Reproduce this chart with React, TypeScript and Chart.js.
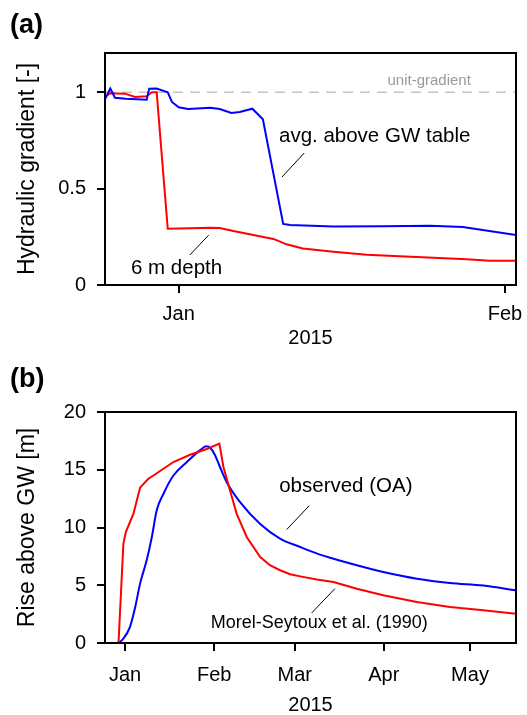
import React, { useEffect, useRef } from 'react';
import { Chart, registerables } from 'chart.js';

Chart.register(...registerables);

const FONT = "'Liberation Sans', Arial, Helvetica, sans-serif";

// ---------- Panel (a): hydraulic gradient, days relative to 1 Jan 2015 ----------
const gradAvgDays = [-7.0, -6.5, -6.05, -5.0, -3.04, -2.8, -2.1, -1.04, -0.64, 0, 0.9, 3.0, 3.9, 5.0, 5.8, 7.0, 8.0, 9.93, 10.6, 14.7, 19.4, 23.9, 27.0, 32.05];
const gradAvgValues = [0.964, 1.02, 0.972, 0.967, 0.962, 1.019, 1.02, 1.0, 0.95, 0.922, 0.913, 0.92, 0.913, 0.893, 0.898, 0.915, 0.86, 0.317, 0.311, 0.303, 0.305, 0.308, 0.301, 0.259];
const grad6mDays = [-7.0, -6.5, -5.1, -4.15, -3.04, -2.56, -2.09, -1.04, 1.07, 3.0, 3.9, 5.2, 7.1, 9.0, 10.25, 11.8, 14.7, 17.85, 21.0, 24.2, 27.35, 29.56, 32.05];
const grad6mValues = [0.977, 0.995, 0.993, 0.976, 0.979, 1.0, 1.0, 0.292, 0.294, 0.297, 0.296, 0.28, 0.26, 0.239, 0.211, 0.19, 0.173, 0.157, 0.149, 0.142, 0.133, 0.126, 0.126];
const unitGradient = 1;
const gradYTicks = [0, 0.5, 1];
const gradXTicks = [0, 31];
const gradXLabels = ['Jan', 'Feb'];

// ---------- Panel (b): rise above groundwater ----------
const riseObsDays = [-7, -2.9, -0.6, 1.7, 3.5, 5.2, 7.5, 9.3, 11, 13.3, 16.8, 21.5, 26.1, 28.2, 29.6, 31.2, 33.0, 35.4, 40.0, 47.0, 53.9, 60.9, 67.8, 72.5, 80.6, 89.8, 101.5, 113, 124.6, 136];
const riseObsValues = [0, 0, 0.38, 1.39, 3.1, 5.14, 7.16, 9.18, 11.5, 12.9, 14.5, 15.67, 16.7, 17.03, 16.9, 16.3, 15.24, 13.9, 12.2, 10.3, 9.04, 8.31, 7.65, 7.3, 6.73, 6.15, 5.57, 5.2, 4.97, 4.56];
const riseMorelDays = [-7, -2.3, -0.6, 0.24, 2.9, 5.2, 8.0, 11, 16.8, 22.6, 28.4, 32.8, 34.2, 36.5, 38.8, 42.3, 47.0, 50.4, 53.9, 57.4, 60.9, 66.7, 72.5, 80.6, 89.8, 101.5, 113, 124.6, 136];
const riseMorelValues = [0, 0, 8.6, 9.6, 11.2, 13.45, 14.2, 14.7, 15.67, 16.3, 16.8, 17.26, 15.24, 13.2, 11.2, 9.18, 7.45, 6.73, 6.3, 5.95, 5.77, 5.5, 5.28, 4.7, 4.13, 3.55, 3.12, 2.83, 2.54];
const riseYTicks = [0, 5, 10, 15, 20];
const riseXTicks = [0, 31, 59, 90, 120];
const riseXLabels = ['Jan', 'Feb', 'Mar', 'Apr', 'May'];

const pts = (xs: number[], ys: number[]) => xs.map((x, i) => ({ x, y: ys[i] }));

type Note = { text: string; x: number; y: number; size: number; color?: string; align?: CanvasTextAlign };
type Leader = { x1: number; y1: number; x2: number; y2: number };

function makeDecor(notes: Note[], leaders: Leader[], label: { text: string; px: number; py: number }) {
  return {
    id: 'decor',
    afterDatasetsDraw(chart: any) {
      const { ctx, chartArea: a, scales } = chart;
      const xs = scales.x;
      const ys = scales.y;
      ctx.save();
      ctx.strokeStyle = '#000';
      ctx.lineWidth = 2;
      ctx.strokeRect(a.left, a.top, a.right - a.left, a.bottom - a.top);
      ctx.lineWidth = 1;
      leaders.forEach((l) => {
        ctx.beginPath();
        ctx.moveTo(xs.getPixelForValue(l.x1), ys.getPixelForValue(l.y1));
        ctx.lineTo(xs.getPixelForValue(l.x2), ys.getPixelForValue(l.y2));
        ctx.stroke();
      });
      ctx.textBaseline = 'alphabetic';
      notes.forEach((n) => {
        ctx.font = `${n.size}px ${FONT}`;
        ctx.fillStyle = n.color || '#000';
        ctx.textAlign = n.align || 'left';
        ctx.fillText(n.text, xs.getPixelForValue(n.x), ys.getPixelForValue(n.y));
      });
      ctx.font = `bold 27px ${FONT}`;
      ctx.fillStyle = '#000';
      ctx.textAlign = 'left';
      ctx.fillText(label.text, label.px, label.py);
      ctx.restore();
    },
  };
}

function xAxis(min: number, max: number, ticks: number[], labels: string[], pad: number, height: number, titleLH: number) {
  return {
    type: 'linear',
    min,
    max,
    afterBuildTicks: (s: any) => { s.ticks = ticks.map((v) => ({ value: v })); },
    afterFit: (s: any) => { s.height = height; s.paddingLeft = 0; s.paddingRight = 0; },
    ticks: {
      autoSkip: false,
      maxRotation: 0,
      padding: pad,
      color: '#000',
      font: { family: FONT, size: 20 },
      callback: (v: number) => { const i = ticks.indexOf(v); return i >= 0 ? labels[i] : ''; },
    },
    grid: { display: true, drawOnChartArea: false, drawTicks: true, tickLength: 8, color: '#000', lineWidth: 2 },
    border: { display: false },
    title: { display: true, text: '2015', color: '#000', font: { family: FONT, size: 20, lineHeight: titleLH }, padding: 0 },
  };
}

function yAxis(min: number, max: number, ticks: number[], title: string) {
  return {
    type: 'linear',
    min,
    max,
    afterBuildTicks: (s: any) => { s.ticks = ticks.map((v) => ({ value: v })); },
    afterFit: (s: any) => { s.width = 105; s.paddingTop = 0; s.paddingBottom = 0; },
    ticks: {
      padding: 11,
      color: '#000',
      font: { family: FONT, size: 20 },
      callback: (v: number) => String(v),
    },
    grid: { display: true, drawOnChartArea: false, drawTicks: true, tickLength: 8, color: '#000', lineWidth: 2 },
    border: { display: false },
    title: { display: true, text: title, color: '#000', font: { family: FONT, size: 23, lineHeight: 1.2 }, padding: { top: 14, bottom: 0 } },
  };
}

function configA(): any {
  const decor = makeDecor(
    [
      { text: 'unit-gradient', x: 27.76, y: 1.038, size: 15, color: '#9a9a9a', align: 'right' },
      { text: 'avg. above GW table', x: 9.53, y: 0.744, size: 20.5 },
      { text: '6 m depth', x: -4.53, y: 0.057, size: 20.5 },
    ],
    [
      { x1: 11.93, y1: 0.685, x2: 9.81, y2: 0.56 },
      { x1: 2.85, y1: 0.259, x2: 1.07, y2: 0.156 },
    ],
    { text: '(a)', px: 10, py: 33 }
  );
  return {
    type: 'line',
    data: {
      datasets: [
        { label: 'avg. above GW table', data: pts(gradAvgDays, gradAvgValues), borderColor: '#0000ff', borderWidth: 2, order: 0 },
        { label: '6 m depth', data: pts(grad6mDays, grad6mValues), borderColor: '#ff0000', borderWidth: 2, order: 0 },
        { label: 'unit-gradient', data: [{ x: -7, y: unitGradient }, { x: 32.05, y: unitGradient }], borderColor: '#c4c4c4', borderWidth: 1.5, borderDash: [10, 7], order: 1 },
      ],
    },
    options: {
      responsive: false,
      animation: false,
      devicePixelRatio: 1,
      layout: { padding: { top: 53, right: 11, left: 0, bottom: 0 } },
      elements: { point: { radius: 0 }, line: { tension: 0 } },
      plugins: { legend: { display: false }, tooltip: { enabled: false } },
      scales: {
        x: xAxis(-7, 32.05, gradXTicks, gradXLabels, 9.5, 65, 1.2),
        y: yAxis(0, 1.204, gradYTicks, 'Hydraulic gradient [-]'),
      },
    },
    plugins: [decor],
  };
}

function configB(): any {
  const decor = makeDecor(
    [
      { text: 'observed (OA)', x: 53.6, y: 13.07, size: 20.5 },
      { text: 'Morel-Seytoux et al. (1990)', x: 29.8, y: 1.33, size: 18 },
    ],
    [
      { x1: 64.1, y1: 11.9, x2: 56.2, y2: 9.82 },
      { x1: 73.0, y1: 4.71, x2: 64.9, y2: 2.6 },
    ],
    { text: '(b)', px: 10, py: 37 }
  );
  return {
    type: 'line',
    data: {
      datasets: [
        { label: 'Morel-Seytoux et al. (1990)', data: pts(riseMorelDays, riseMorelValues), borderColor: '#ff0000', borderWidth: 2, tension: 0 },
        { label: 'observed (OA)', data: pts(riseObsDays, riseObsValues), borderColor: '#0000ff', borderWidth: 2, cubicInterpolationMode: 'monotone' },
      ],
    },
    options: {
      responsive: false,
      animation: false,
      devicePixelRatio: 1,
      layout: { padding: { top: 62, right: 11, left: 0, bottom: 0 } },
      elements: { point: { radius: 0 } },
      plugins: { legend: { display: false }, tooltip: { enabled: false } },
      scales: {
        x: xAxis(-7, 136, riseXTicks, riseXLabels, 12, 72, 1.0),
        y: yAxis(0, 20, riseYTicks, 'Rise above GW [m]'),
      },
    },
    plugins: [decor],
  };
}

function Panel({ make, top, width, height }: { make: () => any; top: number; width: number; height: number }) {
  const ref = useRef<HTMLCanvasElement>(null);
  useEffect(() => {
    const chart = new Chart(ref.current as HTMLCanvasElement, make());
    return () => chart.destroy();
  }, []);
  return (
    <div style={{ position: 'absolute', left: 0, top, width, height }}>
      <canvas ref={ref} width={width} height={height} style={{ width, height, display: 'block' }} />
    </div>
  );
}

export default function App() {
  return (
    <div style={{ position: 'absolute', left: 0, top: 0, width: 527, height: 715, background: '#fff' }}>
      <Panel make={configA} top={0} width={527} height={350} />
      <Panel make={configB} top={350} width={527} height={365} />
    </div>
  );
}
